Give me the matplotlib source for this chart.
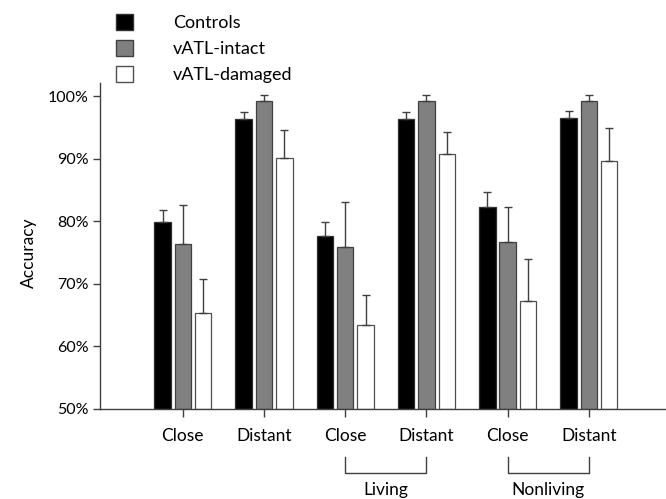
import matplotlib
matplotlib.use("Agg")
import matplotlib.pyplot as plt
import matplotlib.transforms as mtransforms
from matplotlib.patches import Patch
import numpy as np

plt.rcParams['font.family'] = ['Lato', 'DejaVu Sans']

categories = ["Close", "Distant", "Close", "Distant", "Close", "Distant"]
groups = ["Living", "Nonliving"]
series_names = ["Controls", "vATL-intact", "vATL-damaged"]
controls = [79.9, 96.4, 77.7, 96.3, 82.2, 96.5]
controls_top = [81.8, 97.4, 79.8, 97.5, 84.7, 97.6]
intact = [76.4, 99.2, 75.9, 99.2, 76.7, 99.2]
intact_top = [82.6, 100.2, 83.1, 100.2, 82.2, 100.2]
damaged = [65.3, 90.1, 63.4, 90.7, 67.2, 89.6]
damaged_top = [70.8, 94.6, 68.2, 94.2, 73.9, 94.9]
yticks = [50, 60, 70, 80, 90, 100]
ytick_labels = ["50%", "60%", "70%", "80%", "90%", "100%"]

fig = plt.figure(figsize=(6.66, 4.99), dpi=100)
ax = fig.add_axes([100/666, 1 - 409/499, 566/666, 326/499])

x = np.arange(1, len(categories) + 1)
w = 0.203
off = 0.25
axis_col = "#404040"
fills = ["#000000", "#808080", "#ffffff"]
edges = ["#303030", "#404040", "#505050"]
vals = [controls, intact, damaged]
tops = [controls_top, intact_top, damaged_top]
for i in range(3):
    v = np.array(vals[i])
    t = np.array(tops[i])
    err = [np.zeros_like(v), t - v]
    ax.bar(x + (i - 1) * off, v - 50, bottom=50, width=w, color=fills[i],
           edgecolor=edges[i], linewidth=0.9, zorder=2)
    ax.errorbar(x + (i - 1) * off, v, yerr=err, fmt="none", ecolor="#404040",
                elinewidth=1.0, capsize=3.2, capthick=1.0, zorder=3)

ax.set_ylim(50, 102.08)
ax.set_xlim(-0.02, 6.95)
ax.set_yticks(yticks)
ax.set_yticklabels(ytick_labels, fontsize=11.5)
ax.set_xticks(x)
ax.set_xticklabels(categories, fontsize=12.5)
ax.tick_params(axis="y", direction="out", length=5, width=1, color=axis_col, pad=3)
ax.tick_params(axis="x", direction="out", length=6, width=1, color=axis_col, pad=8)
for s in ["top", "right"]:
    ax.spines[s].set_visible(False)
for s in ["left", "bottom"]:
    ax.spines[s].set_color(axis_col)
    ax.spines[s].set_linewidth(1)
ax.set_ylabel("Accuracy", fontsize=12.5)
ax.yaxis.set_label_coords(-0.112, 0.48)

trans = mtransforms.blended_transform_factory(ax.transData, ax.transAxes)
y_top = (409 - 457) / 326
y_bot = (409 - 473) / 326
y_txt = (409 - 490) / 326
for gi, g in enumerate(groups):
    a = x[2 + 2 * gi]
    b = x[3 + 2 * gi]
    ax.plot([a, a, b, b], [y_top, y_bot, y_bot, y_top], color=axis_col, lw=1,
            transform=trans, clip_on=False)
    ax.text((a + b) / 2, y_txt, g, transform=trans, ha="center", va="center",
            fontsize=12.5)

handles = [Patch(facecolor=fills[i], edgecolor=edges[i], linewidth=1) for i in range(3)]
fig.legend(handles, series_names, loc="upper left", bbox_to_anchor=(109/666, 1 - 7/499),
           frameon=False, fontsize=13, handlelength=0.95, handleheight=0.95,
           handletextpad=2.2, labelspacing=0.5, borderaxespad=0)

fig.savefig("out.png", dpi=100)
